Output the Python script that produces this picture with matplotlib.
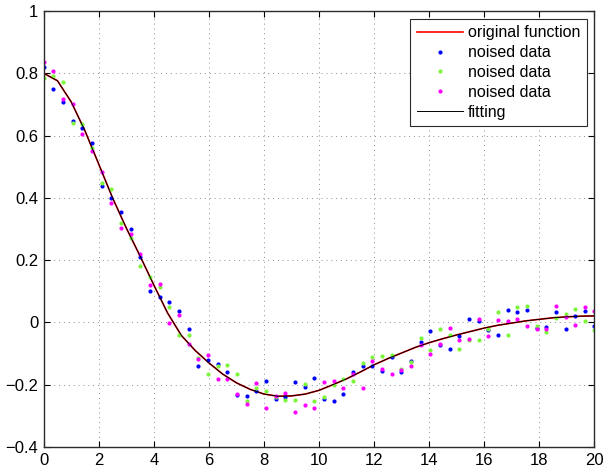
import numpy as np
import matplotlib
matplotlib.use("Agg")
import matplotlib.pyplot as plt

# sample positions of the noisy measurements (58 equally spaced points on [0, 20])
x_data = np.linspace(0, 20, 58)

noise_blue = [0.820, 0.751, 0.709, 0.646, 0.623, 0.575, 0.438, 0.401, 0.354, 0.299,
              0.210, 0.102, 0.083, 0.064, 0.036, -0.022, -0.140, -0.120, -0.134, -0.158,
              -0.234, -0.236, -0.220, -0.189, -0.245, -0.240, -0.191, -0.206, -0.178, -0.247,
              -0.253, -0.230, -0.160, -0.141, -0.141, -0.157, -0.111, -0.158, -0.125, -0.062,
              -0.028, -0.072, -0.086, -0.045, 0.010, 0.005, -0.025, -0.039, 0.039, 0.032,
              0.039, -0.017, -0.016, 0.032, -0.020, 0.021, 0.038, -0.013]

noise_green = [0.786, 0.790, 0.771, 0.641, 0.637, 0.560, 0.448, 0.429, 0.320, 0.272,
               0.182, 0.145, 0.115, 0.048, -0.039, -0.041, -0.113, -0.166, -0.139, -0.138,
               -0.167, -0.253, -0.211, -0.220, -0.240, -0.248, -0.250, -0.198, -0.251, -0.239,
               -0.201, -0.182, -0.187, -0.131, -0.110, -0.109, -0.104, -0.151, -0.128, -0.051,
               -0.088, -0.020, -0.041, -0.084, -0.058, -0.056, -0.022, 0.032, -0.041, 0.049,
               0.053, -0.011, -0.032, 0.013, 0.027, 0.042, 0.003, -0.024]

noise_magenta = [0.837, 0.806, 0.716, 0.702, 0.606, 0.551, 0.484, 0.384, 0.303, 0.285,
                 0.220, 0.120, 0.125, -0.003, 0.025, -0.068, -0.116, -0.103, -0.182, -0.181,
                 -0.230, -0.262, -0.195, -0.274, -0.236, -0.227, -0.288, -0.266, -0.276, -0.192,
                 -0.187, -0.209, -0.165, -0.209, -0.123, -0.148, -0.166, -0.152, -0.139, -0.073,
                 -0.102, -0.068, -0.019, -0.057, -0.053, 0.010, -0.043, 0.009, 0.006, 0.011,
                 -0.010, -0.022, -0.022, 0.053, 0.016, -0.007, 0.049, 0.038]

# original function / fitted curve, read every 0.5 on x
x_curve = np.arange(0, 20.5, 0.5)
orig_vals = [0.800, 0.776, 0.708, 0.615, 0.508, 0.400, 0.303, 0.213, 0.120, 0.030,
             -0.042, -0.090, -0.130, -0.166, -0.194, -0.215, -0.230, -0.237, -0.236, -0.230,
             -0.218, -0.200, -0.181, -0.159, -0.136, -0.116, -0.098, -0.080, -0.065, -0.052,
             -0.040, -0.029, -0.018, -0.009, -0.002, 0.005, 0.010, 0.015, 0.018, 0.020, 0.021]
fit_vals = list(orig_vals)

x_ticks = list(range(0, 21, 2))
y_ticks = [-0.4, -0.2, 0, 0.2, 0.4, 0.6, 0.8, 1]
y_tick_labels = ['\u22120.4', '\u22120.2', '0', '0.2', '0.4', '0.6', '0.8', '1']

plt.rcParams['font.family'] = ['Liberation Sans', 'DejaVu Sans']

fig = plt.figure(figsize=(6.03, 4.72), dpi=100)
ax = fig.add_axes([43.7 / 603, 25 / 472, 550.8 / 603, 436 / 472])

ax.plot(x_curve, orig_vals, color='#ff0000', lw=1.2, label='original function')
ax.plot(x_data, noise_blue, 'o', color='#0000ff', ms=3, mew=0, label='noised data')
ax.plot(x_data, noise_green, 'o', color='#7cf53a', ms=3, mew=0, label='noised data')
ax.plot(x_data, noise_magenta, 'o', color='#ff00ff', ms=3, mew=0, label='noised data')
ax.plot(x_curve, fit_vals, color='#000000', lw=0.7, label='fitting')

ax.set_xlim(0, 20)
ax.set_ylim(-0.4, 1)
ax.set_xticks(x_ticks)
ax.set_xticklabels([str(t) for t in x_ticks])
ax.set_yticks(y_ticks)
ax.set_yticklabels(y_tick_labels)

ax.grid(True, color='#8c8c8c', linestyle=(0, (1, 4)), lw=0.7)
ax.tick_params(direction='in', length=4, width=0.8, top=True, right=True,
               labelsize=12, pad=4, colors='black')
for s in ax.spines.values():
    s.set_color('#2b2b2b')
    s.set_linewidth(1.0)

leg = ax.legend(loc='upper right', numpoints=1, fontsize=11.5, handlelength=2.9,
                handletextpad=0.3, labelspacing=0.3, borderaxespad=0.5,
                fancybox=False, framealpha=1, edgecolor='#2b2b2b', borderpad=0.4)
leg.get_frame().set_linewidth(0.8)

fig.savefig('out.png', dpi=100)
